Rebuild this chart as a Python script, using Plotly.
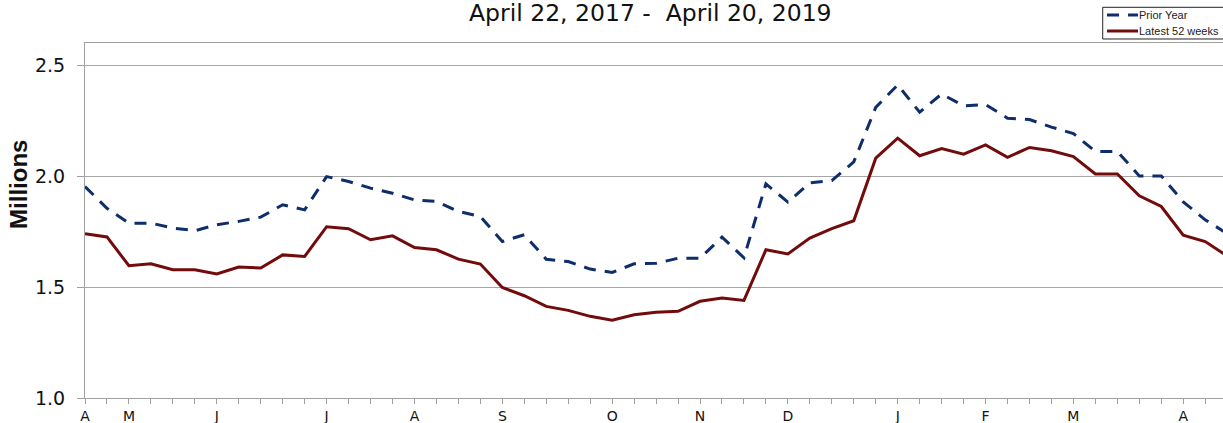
import plotly.graph_objects as go

weeks = list(range(53))

prior_year = [1.953, 1.855, 1.788, 1.788, 1.766, 1.754, 1.781, 1.796, 1.815, 1.871,
              1.848, 1.998, 1.976, 1.946, 1.923, 1.893, 1.886, 1.841, 1.818, 1.705,
              1.736, 1.625, 1.615, 1.581, 1.566, 1.605, 1.607, 1.630, 1.630, 1.725,
              1.632, 1.965, 1.883, 1.970, 1.980, 2.064, 2.310, 2.411, 2.288, 2.370,
              2.317, 2.323, 2.261, 2.255, 2.221, 2.192, 2.111, 2.111, 2.001, 2.001,
              1.884, 1.803, 1.741]

latest_52 = [1.740, 1.726, 1.596, 1.605, 1.578, 1.578, 1.559, 1.590, 1.586, 1.645,
             1.638, 1.772, 1.763, 1.713, 1.731, 1.678, 1.668, 1.626, 1.604, 1.498,
             1.461, 1.413, 1.395, 1.368, 1.351, 1.375, 1.386, 1.391, 1.436, 1.451,
             1.440, 1.668, 1.649, 1.721, 1.763, 1.799, 2.081, 2.171, 2.092, 2.124,
             2.099, 2.141, 2.085, 2.129, 2.114, 2.088, 2.010, 2.010, 1.911, 1.863,
             1.734, 1.705, 1.640]

month_labels = {0: "A", 2: "M", 6: "J", 11: "J", 15: "A", 19: "S", 24: "O",
                28: "N", 32: "D", 37: "J", 41: "F", 45: "M", 50: "A"}

y_ticks = [1.0, 1.5, 2.0, 2.5]

title_text = "April 22, 2017 -  April 20, 2019"
series_names = ["Prior Year", "Latest 52 weeks"]
series_colors = ["#0D2D6B", "#720B0B"]

fig = go.Figure()
fig.add_trace(go.Scatter(x=weeks, y=prior_year, mode="lines", name=series_names[0],
                         line=dict(color=series_colors[0], width=3, dash="12px,9px")))
fig.add_trace(go.Scatter(x=weeks, y=latest_52, mode="lines", name=series_names[1],
                         line=dict(color=series_colors[1], width=3)))

# legend box (drawn in paper coordinates, clipped at the right edge like the original)
leg_x0, leg_row_y = 0.8943, [1.0789, 1.0338]
shapes = [
    dict(type="rect", xref="paper", yref="paper", x0=leg_x0, x1=1.06,
         y0=1.0113, y1=1.1006, line=dict(color="#222", width=1),
         fillcolor="white", layer="above"),
    dict(type="line", xref="paper", yref="paper", x0=0.8981, x1=0.9253,
         y0=leg_row_y[0], y1=leg_row_y[0],
         line=dict(color=series_colors[0], width=3, dash="12px,9px"), layer="above"),
    dict(type="line", xref="paper", yref="paper", x0=0.8981, x1=0.9253,
         y0=leg_row_y[1], y1=leg_row_y[1],
         line=dict(color=series_colors[1], width=3), layer="above"),
]

annotations = [
    dict(text=title_text, xref="paper", yref="paper", x=0.4965, y=1.0831,
         xanchor="center", yanchor="middle", showarrow=False,
         font=dict(family="DejaVu Sans", size=23.5, color="#111")),
    dict(text="<b>Millions</b>", xref="paper", yref="paper", x=-0.058, y=0.603,
         xanchor="center", yanchor="middle", showarrow=False, textangle=-90,
         font=dict(family="Arial", size=24, color="#111")),
]
for name, yy in zip(series_names, leg_row_y):
    annotations.append(dict(text=name, xref="paper", yref="paper", x=0.9245, y=yy,
                            xanchor="left", yanchor="middle", showarrow=False,
                            font=dict(family="Arial", size=11, color="#222")))

fig.update_layout(
    width=1223, height=423,
    margin=dict(l=85, r=0, t=43, b=25, autoexpand=False),
    plot_bgcolor="white", paper_bgcolor="white",
    showlegend=False,
    xaxis=dict(range=[0, 51.81], tickmode="array", tickvals=weeks,
               ticktext=[month_labels.get(w, "") for w in weeks],
               ticks="outside", ticklen=5, tickcolor="#A0A0A0",
               showline=True, linecolor="#A0A0A0", mirror=True,
               showgrid=False, zeroline=False,
               tickfont=dict(family="DejaVu Sans", size=14, color="#111")),
    yaxis=dict(range=[1.0, 2.6], tickmode="array", tickvals=y_ticks,
               ticktext=[f"{v:.1f}" for v in y_ticks],
               ticks="outside", ticklen=7, tickcolor="#A0A0A0",
               showline=True, linecolor="#A0A0A0",
               showgrid=True, gridcolor="#A6A6A6", gridwidth=1, zeroline=False,
               ticklabelstandoff=8,
               tickfont=dict(family="DejaVu Sans", size=19, color="#111")),
    shapes=shapes,
    annotations=annotations,
)

fig.write_html("out.html", config={"displayModeBar": False},
               post_script="document.body.style.margin='0';document.body.style.overflow='hidden';")
